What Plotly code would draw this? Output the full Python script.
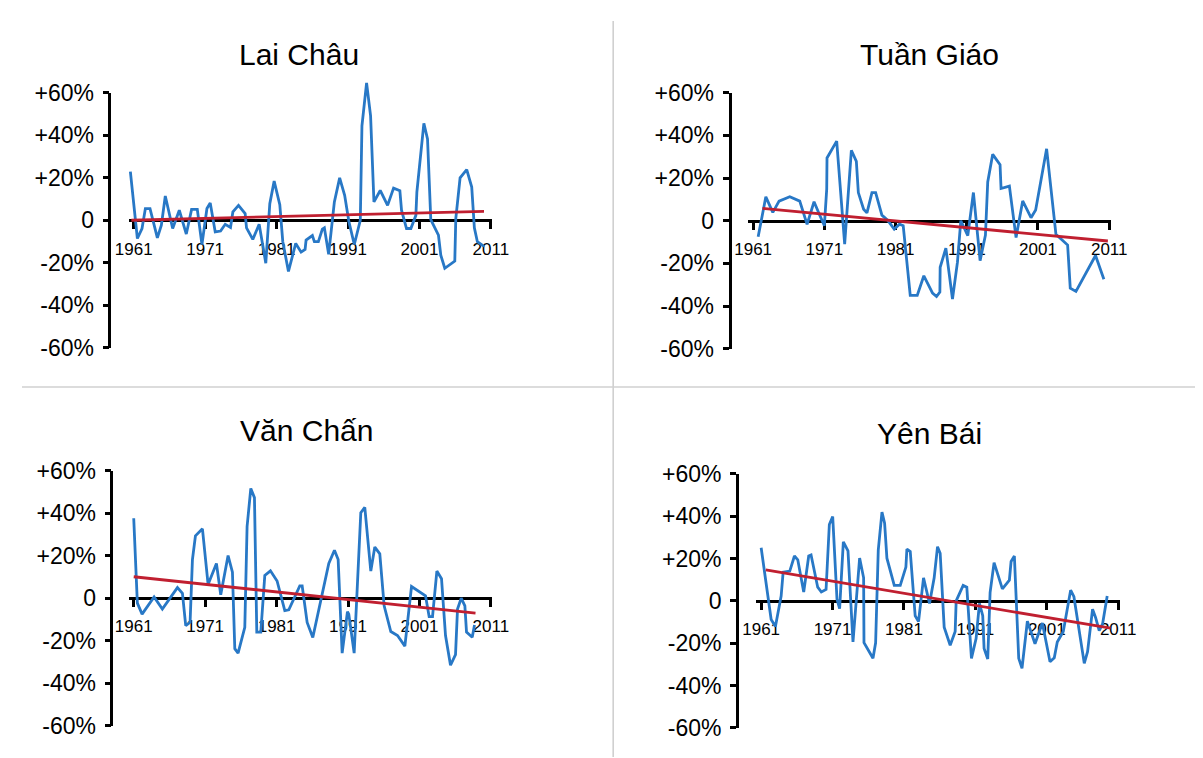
import plotly.graph_objects as go

# The photographed page shows the figure shifted and slightly shrunk,
# so reference pixel positions are mapped through this offset/scale.
SX, OX = 0.976, 20.4
SY, OY = 0.973, 17.8
W, H = 1215, 762

titles = ["Lai Châu", "Tuần Giáo", "Văn Chấn", "Yên Bái"]

# --- Lai Châu
lc_years = [1960.53, 1961.51, 1962.16, 1962.63, 1963.28, 1964.31, 1964.87, 1965.42, 1966.45, 1967.38,
            1968.36, 1969.10, 1969.90, 1970.55, 1971.25, 1971.71, 1972.41, 1973.16, 1973.81, 1974.55,
            1974.88, 1975.67, 1976.60, 1976.79, 1977.67, 1978.56, 1979.49, 1980.05, 1980.66, 1981.45,
            1981.87, 1982.66, 1983.68, 1984.43, 1984.99, 1985.13, 1986.01, 1986.29, 1986.85, 1987.41,
            1987.69, 1988.29, 1989.09, 1989.83, 1990.53, 1991.13, 1991.88, 1992.72, 1992.95, 1993.60,
            1994.16, 1994.63, 1995.51, 1996.54, 1997.38, 1998.26, 1998.49, 1999.19, 1999.80, 2000.50,
            2000.64, 2001.62, 2002.13, 2002.59, 2003.66, 2003.99, 2004.55, 2005.95, 2006.09, 2006.69,
            2007.62, 2008.32, 2008.69, 2009.11, 2010.04]
lc_values = [22.9, -8.6, -3.9, 5.5, 5.5, -8.3, -2.3, 11.4, -3.9, 4.7,
             -6.5, 5.1, 5.1, -11.4, 5.5, 8.1, -5.5, -5.1, -1.9, -3.4,
             3.9, 7.0, 3.1, -3.6, -9.0, -1.9, -20.2, 7.8, 18.4, 7.3,
             -10.1, -24.1, -10.9, -15.0, -13.7, -9.3, -7.2, -10.1, -10.1, -4.2,
             -3.6, -16.0, 8.6, 19.9, 11.7, -0.8, -11.4, 0.0, 44.4, 64.6,
             49.1, 8.6, 14.0, 7.0, 15.1, 13.9, 4.7, -3.9, -3.9, 2.3,
             13.2, 45.6, 38.2, 0.3, -7.0, -16.4, -22.6, -19.2, 0.8, 19.9,
             23.8, 15.6, -3.6, -10.1, -12.3]
lc_trend_years = [1960.67, 2010.04]
lc_trend_values = [0.0, 4.2]

# --- Tuần Giáo
tg_years = [1961.70, 1962.78, 1963.76, 1964.64, 1966.14, 1967.54, 1968.57, 1969.55, 1970.35, 1971.00,
            1971.33, 1971.37, 1972.73, 1973.85, 1974.79, 1975.49, 1975.77, 1976.51, 1976.98, 1977.68,
            1978.20, 1979.08, 1979.88, 1980.81, 1981.56, 1982.07, 1983.06, 1984.04, 1984.97, 1986.19,
            1986.75, 1987.22, 1987.26, 1988.06, 1988.99, 1989.69, 1990.16, 1991.14, 1991.93, 1992.87,
            1993.62, 1993.94, 1994.64, 1995.67, 1995.81, 1996.98, 1997.92, 1998.85, 2000.02, 2000.67,
            2002.21, 2003.52, 2005.16, 2005.53, 2006.33, 2009.08, 2010.25]
tg_values = [-7.5, 11.2, 3.9, 9.2, 11.2, 9.2, -1.7, 8.9, 2.6, -2.3,
             14.8, 29.4, 37.3, -11.0, 33.0, 27.8, 13.2, 5.4, 3.7, 13.2,
             13.2, 2.6, 0.3, -3.9, -1.6, -2.3, -35.0, -35.0, -25.8, -33.9,
             -35.5, -33.4, -21.8, -12.9, -36.7, -19.4, 0.0, -7.0, 13.2, -18.7,
             -6.7, 18.2, 31.1, 26.3, 15.1, 16.2, -7.9, 9.3, 1.4, 5.0,
             33.7, -6.4, -11.4, -31.6, -33.1, -16.3, -27.4]
tg_trend_years = [1962.31, 2010.81]
tg_trend_values = [5.8, -9.5]

# --- Văn Chấn
vc_years = [1961.00, 1961.51, 1962.17, 1963.85, 1965.01, 1967.12, 1967.82, 1968.28, 1968.89, 1969.22,
            1969.64, 1970.62, 1971.41, 1972.58, 1973.18, 1974.21, 1974.82, 1975.15, 1975.61, 1976.55,
            1976.87, 1977.39, 1977.90, 1978.23, 1978.79, 1979.35, 1980.14, 1981.07, 1982.15, 1982.71,
            1984.25, 1984.58, 1985.28, 1986.07, 1988.31, 1989.10, 1989.62, 1990.18, 1990.92, 1991.11,
            1991.86, 1992.79, 1993.35, 1993.73, 1994.19, 1994.75, 1995.45, 1996.06, 1996.99, 1997.93,
            1998.96, 1999.89, 2001.29, 2001.85, 2002.36, 2002.83, 2003.44, 2004.09, 2004.65, 2005.35,
            2006.05, 2006.33, 2006.85, 2007.36, 2007.59, 2008.39, 2008.71]
vc_values = [37.7, -2.3, -7.5, 0.6, -5.1, 5.0, 2.3, -12.9, -11.4, 18.2,
             29.4, 32.7, 6.5, 16.4, 1.6, 20.1, 12.3, -23.8, -25.9, -13.7,
             33.8, 51.7, 47.4, -16.0, -16.0, 10.7, 12.9, 8.1, -5.9, -5.5,
             5.8, 5.8, -11.4, -18.5, 16.4, 22.6, 18.2, -25.9, -6.4, -7.5,
             -25.9, 40.3, 42.8, 27.6, 12.8, 24.1, 20.9, -3.6, -15.7, -17.6,
             -22.6, 5.5, 2.3, 1.1, -8.7, -8.7, 12.8, 9.2, -17.6, -31.6,
             -26.6, -5.1, 0.0, -3.6, -16.0, -18.4, -12.6]
vc_trend_years = [1961.00, 2008.85]
vc_trend_values = [10.1, -7.0]

# --- Yên Bái
yb_years = [1961.00, 1961.84, 1962.40, 1963.00, 1963.80, 1964.08, 1965.01, 1965.66, 1966.13, 1966.96,
            1967.66, 1967.99, 1968.92, 1969.43, 1970.09, 1970.55, 1971.02, 1971.62, 1971.99, 1972.51,
            1973.16, 1973.86, 1974.79, 1975.35, 1975.40, 1976.66, 1977.03, 1977.40, 1977.92, 1978.29,
            1978.61, 1979.64, 1980.48, 1981.27, 1981.41, 1981.88, 1982.57, 1983.04, 1983.74, 1984.58,
            1985.23, 1985.70, 1986.07, 1986.63, 1987.47, 1988.17, 1988.31, 1989.29, 1989.80, 1990.45,
            1991.10, 1991.57, 1992.03, 1992.22, 1992.73, 1993.06, 1993.62, 1994.78, 1995.76, 1996.00,
            1996.46, 1997.07, 1997.53, 1998.28, 1999.35, 2000.38, 2001.45, 2002.05, 2002.47, 2003.31,
            2004.34, 2004.80, 2006.25, 2006.71, 2007.41, 2007.83, 2008.34, 2008.81, 2009.46]
yb_values = [25.1, 3.9, -8.8, -12.1, 2.3, 13.6, 14.1, 21.2, 19.4, 4.2,
             21.2, 21.7, 6.5, 4.2, 5.4, 36.1, 39.8, 0.8, -3.6, 27.9,
             23.6, -19.4, 20.2, 10.9, -19.7, -27.1, -19.8, 24.0, 41.9, 36.7,
             20.2, 7.3, 7.3, 16.0, 24.5, 23.3, -7.0, -9.8, 10.9, -1.2,
             10.9, 25.6, 22.5, -12.4, -20.9, -14.4, 0.0, 7.3, 6.5, -27.1,
             -17.8, -1.1, -7.0, -22.5, -27.4, 3.9, 18.1, 5.7, 9.8, 18.6,
             21.2, -27.1, -31.8, -9.6, -20.2, -10.4, -28.7, -26.8, -19.4, -14.4,
             5.1, 2.0, -29.5, -24.0, -3.9, -7.8, -14.0, -10.9, 2.3]
yb_trend_years = [1961.65, 2009.93]
yb_trend_values = [14.7, -12.9]

x_tickvals = [1961, 1971, 1981, 1991, 2001, 2011]
y_tickvals = [-60, -40, -20, 0, 20, 40, 60]
y_ticktext = ["-60%", "-40%", "-20%", "0", "+20%", "+40%", "+60%"]

series = [
    (lc_years, lc_values, lc_trend_years, lc_trend_values),
    (tg_years, tg_values, tg_trend_years, tg_trend_values),
    (vc_years, vc_values, vc_trend_years, vc_trend_values),
    (yb_years, yb_values, yb_trend_years, yb_trend_values),
]

# placement of each panel in reference pixels: x of the 1961 and 2011 ticks,
# y of the +60% and -60% ticks, x of the y axis line, title centre
panels = [
    dict(px61=132.3, px11=490.0, top=90.0, bot=347.0, yax=108.0, title=(298, 52)),
    dict(px61=752.7, px11=1109.3, top=90.0, bot=348.0, yax=729.0, title=(929, 52)),
    dict(px61=132.3, px11=490.0, top=471.0, bot=727.5, yax=110.0, title=(305, 430)),
    dict(px61=760.7, px11=1118.3, top=474.0, bot=730.0, yax=736.5, title=(929, 433)),
]
x_lo, x_hi = 1960.3, 2011.2
y_pad = 12  # extra room so peaks above +60% are not clipped


def px(x):
    return (x - OX) / SX


def py(y):
    return (y - OY) / SY


def fx(x):
    return min(1.0, max(0.0, px(x) / W))


def fy(y):
    return min(1.0, max(0.0, 1 - py(y) / H))


BLUE = "#2878c6"
RED = "#c01f30"
FONT = "Liberation Sans, Arial, sans-serif"

fig = go.Figure()
layout = {}
annotations = []

for i, (p, (xs, ys, txs, tys), title) in enumerate(zip(panels, series, titles)):
    xn = "" if i == 0 else str(i + 1)
    yv = "" if i == 0 else str(i + 1)      # visible y axis
    yd = str(i + 5)                         # data y axis
    ppy = (p["px11"] - p["px61"]) / 50.0
    left = p["px61"] + (x_lo - 1961) * ppy
    right = p["px11"] + (x_hi - 2011) * ppy
    ftop, fbot = py(p["top"]), py(p["bot"])
    pp = (fbot - ftop) / 120.0
    pad_hi = min(y_pad, ftop / pp - 0.01)
    pad_lo = min(y_pad, (H - fbot) / pp - 0.01)
    y0, y1 = 1 - fbot / H, 1 - ftop / H
    layout["xaxis" + xn] = dict(
        domain=[fx(left), fx(right)], range=[x_lo, x_hi],
        anchor="free", position=(y0 + y1) / 2,
        showline=True, linecolor="black", linewidth=2.8,
        ticks="outside", ticklen=7, tickwidth=2.8, tickcolor="black",
        tickvals=x_tickvals, tickfont=dict(family=FONT, size=17, color="black"),
        ticklabelstandoff=5, layer="below traces",
        showgrid=False, zeroline=False, fixedrange=True,
    )
    layout["yaxis" + yv] = dict(
        domain=[y0, y1], range=[-60, 60],
        anchor="free", position=fx(p["yax"]),
        showline=True, linecolor="black", linewidth=2.8,
        ticks="outside", ticklen=6, tickwidth=2.8, tickcolor="black",
        tickvals=y_tickvals, ticktext=y_ticktext,
        tickfont=dict(family=FONT, size=23, color="black"),
        ticklabelstandoff=4,
        showgrid=False, zeroline=False, fixedrange=True,
    )
    layout["yaxis" + yd] = dict(
        domain=[1 - (fbot + pad_lo * pp) / H, 1 - (ftop - pad_hi * pp) / H],
        range=[-60 - pad_lo, 60 + pad_hi], anchor="x" + xn,
        visible=False, fixedrange=True,
    )
    # empty trace so the visible y axis gets its own subplot
    fig.add_trace(go.Scatter(x=[], y=[], xaxis="x" + xn, yaxis="y" + yv,
                             mode="lines", showlegend=False, hoverinfo="skip"))
    fig.add_trace(go.Scatter(x=xs, y=ys, mode="lines", xaxis="x" + xn, yaxis="y" + yd,
                             line=dict(color=BLUE, width=2.8), showlegend=False))
    fig.add_trace(go.Scatter(x=txs, y=tys, mode="lines", xaxis="x" + xn, yaxis="y" + yd,
                             line=dict(color=RED, width=2.8), showlegend=False))
    annotations.append(dict(text=title, xref="paper", yref="paper",
                            x=fx(p["title"][0]), y=fy(p["title"][1]),
                            xanchor="center", yanchor="middle", showarrow=False,
                            font=dict(family=FONT, size=30, color="black")))

border = "#d0d0d0"
shapes = [
    dict(type="line", xref="paper", yref="paper", x0=fx(612.5), x1=fx(612.5), y0=0, y1=1,
         line=dict(color=border, width=1.6), layer="below"),
    dict(type="line", xref="paper", yref="paper", x0=0, x1=1, y0=fy(386.5), y1=fy(386.5),
         line=dict(color=border, width=1.6), layer="below"),
]

fig.update_layout(
    width=W, height=H,
    margin=dict(l=0, r=0, t=0, b=0),
    paper_bgcolor="white", plot_bgcolor="rgba(0,0,0,0)",
    font=dict(family=FONT, color="black"),
    annotations=annotations, shapes=shapes,
    showlegend=False,
    **layout,
)

fig.write_html("out.html")
